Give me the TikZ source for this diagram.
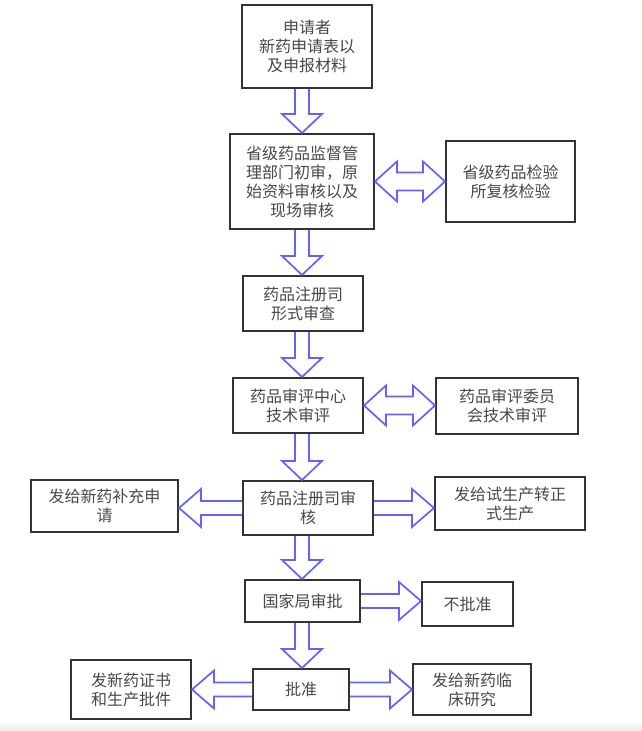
\documentclass[tikz,border=0pt]{standalone}
\usepackage{fontspec}
\newfontfamily\cjk{Noto Sans CJK SC}
\usetikzlibrary{calc}
\definecolor{boxline}{HTML}{333333}
\definecolor{arrowblue}{HTML}{6262FF}
\definecolor{txt}{HTML}{484848}
\tikzset{
  box/.style={draw=boxline, line width=2pt, fill=white, inner sep=0pt,
    align=center, text=txt, font=\cjk\fontsize{16}{19}\selectfont},
  fatarrow/.style={draw=arrowblue, line width=1.7pt, fill=white, line join=miter},
}
\newcommand\arrdown[2]{%
  \draw[fatarrow] let \p1=(#1.south -| spine), \p2=(#2.north -| spine) in
    (\x1-7pt,\y1) -- (\x1-7pt,\y2+19pt) -- (\x1-20pt,\y2+19pt) -- (\x1,\y2)
    -- (\x1+20pt,\y2+19pt) -- (\x1+7pt,\y2+19pt) -- (\x1+7pt,\y1);}
\newcommand\arrright[2]{%
  \draw[fatarrow] let \p1=(#1.east), \p2=(#2.west) in
    (\x1,\y1+7pt) -- (\x2-22pt,\y1+7pt) -- (\x2-22pt,\y1+19pt) -- (\x2,\y1)
    -- (\x2-22pt,\y1-19pt) -- (\x2-22pt,\y1-7pt) -- (\x1,\y1-7pt);}
\newcommand\arrleft[2]{%
  \draw[fatarrow] let \p1=(#1.west), \p2=(#2.east) in
    (\x1,\y1+7pt) -- (\x2+22pt,\y1+7pt) -- (\x2+22pt,\y1+19pt) -- (\x2,\y1)
    -- (\x2+22pt,\y1-19pt) -- (\x2+22pt,\y1-7pt) -- (\x1,\y1-7pt);}
\newcommand\arrboth[2]{%
  \draw[fatarrow] let \p1=(#1.east), \p2=(#2.west) in
    (\x1,\y1) -- (\x1+22pt,\y1+20pt) -- (\x1+22pt,\y1+9pt) -- (\x2-22pt,\y1+9pt)
    -- (\x2-22pt,\y1+20pt) -- (\x2,\y1) -- (\x2-22pt,\y1-20pt) -- (\x2-22pt,\y1-9pt)
    -- (\x1+22pt,\y1-9pt) -- (\x1+22pt,\y1-20pt) -- cycle;}
\begin{document}
\begin{tikzpicture}[x=1pt,y=-1pt]
\useasboundingbox[fill=white] (0,0) rectangle (642,731);
\shade[top color=white, bottom color=black!8] (0,721) rectangle (642,731);
\coordinate (spine) at (302,0);

\node[box, minimum width=130, minimum height=83] (b1) at (307,46.5) {申请者\\新药申请表以\\及申报材料};
\node[box, minimum width=144, minimum height=95] (b2) at (302,181.5) {省级药品监督管\\理部门初审，原\\始资料审核以及\\现场审核};
\node[box, minimum width=129, minimum height=81] (b3) at (510.5,181.5) {省级药品检验\\所复核检验};
\node[box, minimum width=120, minimum height=55] (b4) at (303,303.5) {药品注册司\\形式审查};
\node[box, minimum width=130, minimum height=55] (b5) at (298,405.5) {药品审评中心\\技术审评};
\node[box, minimum width=142, minimum height=56] (b6) at (507,406) {药品审评委员\\会技术审评};
\node[box, minimum width=130, minimum height=54] (b7) at (308,508) {药品注册司审\\核};
\node[box, minimum width=147, minimum height=52] (b8) at (104.5,506) {发给新药补充申\\请};
\node[box, minimum width=150, minimum height=53] (b9) at (510,503.5) {发给试生产转正\\式生产};
\node[box, minimum width=115, minimum height=42] (b10) at (302.5,601) {国家局审批};
\node[box, minimum width=91, minimum height=44] (b11) at (467.5,604) {不批准};
\node[box, minimum width=96, minimum height=41] (b12) at (301,689.5) {批准};
\node[box, minimum width=120, minimum height=59] (b13) at (131,689.5) {发新药证书\\和生产批件};
\node[box, minimum width=118, minimum height=51] (b14) at (472,689.5) {发给新药临\\床研究};

\arrdown{b1}{b2}
\arrdown{b2}{b4}
\arrdown{b4}{b5}
\arrdown{b5}{b7}
\arrdown{b7}{b10}
\arrdown{b10}{b12}
\arrboth{b2}{b3}
\arrboth{b5}{b6}
\arrleft{b7}{b8}
\arrright{b7}{b9}
\arrright{b10}{b11}
\arrleft{b12}{b13}
\arrright{b12}{b14}
\end{tikzpicture}
\end{document}
